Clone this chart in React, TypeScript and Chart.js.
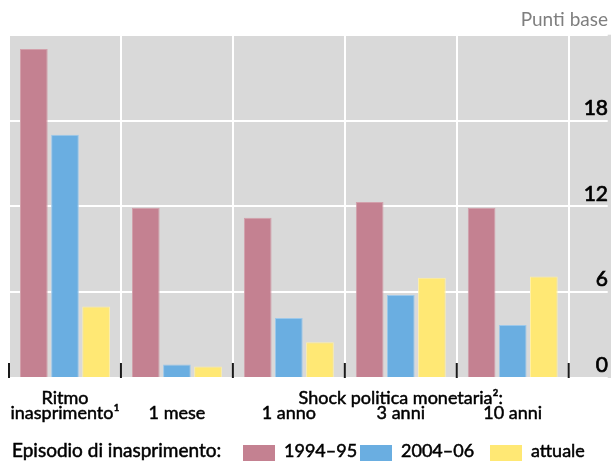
import React, { useEffect, useRef } from "react";
import { Chart, registerables } from "chart.js";

Chart.register(...registerables);

const categories: string[][] = [
  ["Ritmo", "inasprimento¹"],
  ["", "1 mese"],
  ["", "1 anno"],
  ["Shock politica monetaria²:", "3 anni"],
  ["", "10 anni"],
];
const series1994 = [23.0, 11.9, 11.2, 12.3, 11.9];
const series2004 = [17.0, 0.95, 4.2, 5.8, 3.7];
const seriesAttuale = [5.0, 0.8, 2.5, 7.0, 7.1];
const seriesNames = ["1994–95", "2004–06", "attuale"];
const yTicks = [0, 6, 12, 18, 24];
const unitLabel = "Punti base";
const legendTitle = "Episodio di inasprimento:";

const COLORS = ["#C48191", "#6AAEE1", "#FFE874"];
const BORDERS = ["#D2A0AB", "#9CC8EA", "#FFF0A5"];
const FONT = "Lato, 'DejaVu Sans', sans-serif";

export default function App() {
  const ref = useRef<HTMLCanvasElement>(null);
  useEffect(() => {
    const canvas = ref.current!;
    const bgPlugin = {
      id: "bg",
      beforeDraw(chart: any) {
        const { ctx, chartArea } = chart;
        ctx.save();
        ctx.fillStyle = "#D9D9D9";
        ctx.fillRect(chartArea.left, chartArea.top, chart.width - chartArea.left, chartArea.bottom - chartArea.top);
        ctx.restore();
      },
      afterDatasetsDraw(chart: any) {
        const { ctx, chartArea } = chart;
        const xs = chart.scales.x;
        const n = categories.length;
        const w = (chartArea.right - chartArea.left) / n;
        ctx.save();
        ctx.strokeStyle = "#1A1A1A";
        ctx.lineWidth = 2;
        for (let i = 0; i <= n; i++) {
          const x = i < n ? xs.getPixelForValue(i) - w / 2 : xs.getPixelForValue(n - 1) + w / 2;
          ctx.beginPath();
          ctx.moveTo(x, chartArea.bottom - 15);
          ctx.lineTo(x, chartArea.bottom);
          ctx.stroke();
        }
        ctx.restore();
      },
      afterDraw(chart: any) {
        const { ctx } = chart;
        ctx.save();
        // unit label
        ctx.font = `19px ${FONT}`;
        ctx.fillStyle = "#7F7F7F";
        ctx.textAlign = "right";
        ctx.textBaseline = "middle";
        ctx.fillText(unitLabel, 608, 20);
        // legend
        ctx.fillStyle = "#000";
        ctx.strokeStyle = "#000";
        ctx.lineWidth = 0.5;
        ctx.textAlign = "left";
        ctx.font = `19px ${FONT}`;
        ctx.fillText(legendTitle, 12, 451);
        ctx.strokeText(legendTitle, 12, 451);
        ctx.font = `18px ${FONT}`;
        const swatchX = [243, 360, 490];
        chart.data.datasets.forEach((ds: any, i: number) => {
          ctx.fillStyle = ds.backgroundColor;
          ctx.fillRect(swatchX[i], 445, 32, 16);
          ctx.fillStyle = "#000";
          ctx.fillText(ds.label, swatchX[i] + 41, 451);
          ctx.strokeText(ds.label, swatchX[i] + 41, 451);
        });
        ctx.restore();
      },
    };

    const chart = new Chart(canvas, {
      type: "bar",
      data: {
        labels: categories,
        datasets: [series1994, series2004, seriesAttuale].map((d, i) => ({
          label: seriesNames[i],
          data: d,
          backgroundColor: COLORS[i],
          borderColor: BORDERS[i],
          borderWidth: 1,
          categoryPercentage: 0.834,
          barPercentage: 0.89,
        })),
      },
      options: {
        responsive: false,
        animation: false,
        layout: { padding: { left: 9, right: 3, top: 34.7, bottom: 0 } },
        plugins: { legend: { display: false }, tooltip: { enabled: false } },
        scales: {
          x: {
            offset: true,
            grid: { offset: true, color: "#FFFFFF", lineWidth: 2, drawTicks: false },
            border: { display: false },
            ticks: {
              autoSkip: false,
              maxRotation: 0,
              minRotation: 0,
              padding: 13.3,
              color: "#000",
              textStrokeColor: "#000",
              textStrokeWidth: 0.5,
              font: { family: FONT, size: 18, lineHeight: 0.8 },
            },
            afterFit(scale: any) {
              scale.height = 83;
              scale.paddingLeft = 0;
              scale.paddingRight = 0;
            },
          },
          y: {
            position: "right",
            min: yTicks[0],
            max: yTicks[yTicks.length - 1],
            afterBuildTicks(scale: any) {
              scale.ticks = yTicks.map((v) => ({ value: v }));
            },
            grid: { color: "#FFFFFF", lineWidth: 2, tickLength: 39, tickColor: "#FFFFFF" },
            border: { display: false },
            ticks: {
              crossAlign: "far",
              labelOffset: -12.5,
              padding: 0,
              color: "#000",
              textStrokeColor: "#000",
              textStrokeWidth: 0.7,
              font: { family: FONT, size: 21 },
              callback: (v: any) => (v === yTicks[yTicks.length - 1] ? "" : String(v)),
            },
            afterFit(scale: any) {
              scale.width = 39.3;
              scale.paddingTop = 0;
              scale.paddingBottom = 0;
            },
          },
        },
      },
      plugins: [bgPlugin],
    } as any);
    return () => chart.destroy();
  }, []);
  return (
    <div style={{ position: "absolute", left: 0, top: 0, width: 611, height: 461, background: "#fff" }}>
      <canvas ref={ref} width={611} height={461} style={{ display: "block" }} />
    </div>
  );
}
